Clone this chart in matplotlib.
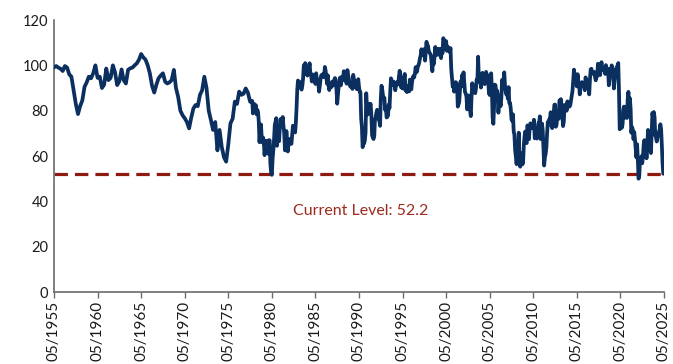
import matplotlib
matplotlib.use("Agg")
import matplotlib.pyplot as plt
import pandas as pd

# Consumer sentiment index: quarterly readings (Feb/May/Aug/Nov) 1955-1977
quarterly_1955_1977 = [
    99.1, 99.7, 99.0,                      # 1955 (May, Aug, Nov)
    98.5, 97.5, 99.7, 99.0,                # 1956
    96.0, 95.0, 89.0, 83.0,                # 1957
    78.5, 82.0, 84.5, 90.5,                # 1958
    92.5, 95.0, 94.3, 96.5,                # 1959
    100.0, 94.5, 95.0, 90.0,               # 1960
    91.5, 98.6, 93.5, 94.5,                # 1961
    100.0, 97.0, 91.3, 93.0,               # 1962
    98.2, 93.5, 92.0, 98.0,                # 1963
    98.7, 99.0, 100.0, 100.9,              # 1964
    102.5, 105.0, 103.5, 102.5,            # 1965
    100.0, 96.5, 91.0, 88.0,               # 1966
    91.5, 94.3, 95.5, 96.5,                # 1967
    92.8, 92.0, 92.5, 93.5,                # 1968
    98.0, 90.0, 86.0, 80.0,                # 1969
    78.0, 76.7, 75.0, 72.2,                # 1970
    77.0, 81.0, 82.5, 82.0,                # 1971
    87.0, 89.0, 95.0, 90.0,                # 1972
    80.0, 76.0, 71.5, 75.0,                # 1973
    62.5, 71.5, 64.0, 59.5,                # 1974
    57.5, 65.0, 74.4, 76.5,                # 1975
    84.0, 83.0, 88.4, 87.0,                # 1976
    87.5, 89.8, 88.0, 84.0,                # 1977
]

# Monthly readings from January 1978
monthly_1978_1987 = [
    83.7, 84.3, 78.8, 81.6, 82.9, 80.0, 82.4, 78.4, 80.4, 79.3, 75.0, 66.1,
    72.1, 73.9, 68.4, 66.0, 68.1, 65.8, 60.4, 64.5, 66.7, 62.1, 63.3, 61.0,
    67.0, 66.9, 56.5, 52.7, 51.7, 58.7, 62.3, 67.3, 73.7, 75.0, 76.7, 64.5,
    71.4, 66.9, 66.5, 72.4, 76.3, 73.1, 74.1, 77.2, 73.1, 70.3, 62.5, 64.3,
    71.0, 66.5, 62.0, 65.5, 67.5, 65.7, 65.4, 65.4, 69.3, 73.4, 72.1, 71.9,
    70.4, 74.6, 80.8, 89.1, 93.3, 92.2, 92.8, 90.9, 89.9, 89.3, 91.1, 94.2,
    100.1, 97.4, 101.0, 96.1, 98.1, 95.5, 96.6, 99.1, 100.9, 96.3, 95.7, 92.9,
    96.0, 93.7, 93.7, 94.6, 91.8, 96.5, 94.0, 92.4, 92.1, 88.4, 90.9, 93.9,
    95.6, 95.9, 95.1, 96.2, 94.8, 99.3, 97.7, 94.9, 91.9, 95.6, 91.4, 89.1,
    90.9, 90.5, 90.4, 92.8, 91.1, 91.5, 93.7, 94.4, 93.6, 89.3, 83.1, 86.8,
]
monthly_1988_1997 = [
    90.8, 91.6, 94.6, 91.2, 94.8, 94.7, 93.4, 97.4, 97.3, 94.1, 93.0, 91.9,
    97.9, 95.4, 94.3, 91.5, 90.7, 90.6, 92.0, 89.6, 95.8, 93.9, 90.9, 90.5,
    93.0, 89.5, 91.3, 93.9, 90.6, 88.3, 88.2, 76.4, 72.8, 63.9, 66.0, 65.5,
    66.8, 70.4, 87.7, 81.8, 78.3, 82.1, 82.9, 82.0, 83.0, 78.3, 69.1, 68.2,
    67.5, 68.8, 76.0, 77.2, 79.2, 80.4, 76.6, 76.1, 75.6, 73.3, 85.3, 91.0,
    89.3, 86.6, 85.9, 85.6, 80.3, 81.5, 77.0, 77.3, 77.9, 82.7, 81.2, 88.2,
    94.3, 93.2, 91.5, 92.6, 92.8, 91.2, 89.0, 91.7, 91.5, 92.7, 91.6, 95.1,
    97.6, 95.1, 90.3, 92.5, 89.8, 92.7, 94.4, 96.2, 88.9, 90.2, 88.2, 91.0,
    89.3, 88.5, 93.7, 92.7, 89.4, 92.4, 94.7, 95.3, 94.7, 96.5, 99.2, 96.9,
    97.4, 99.7, 100.0, 101.4, 103.2, 104.5, 107.1, 104.4, 106.0, 105.6, 107.2, 102.1,
]
monthly_1998_2007 = [
    106.6, 110.4, 106.5, 108.7, 106.5, 105.6, 105.2, 104.4, 100.9, 97.4, 102.7, 100.5,
    103.9, 108.1, 105.7, 104.6, 106.8, 107.3, 106.0, 104.5, 107.2, 103.2, 107.2, 105.4,
    112.0, 111.3, 107.1, 109.2, 110.7, 106.4, 108.3, 107.3, 106.8, 105.8, 107.6, 98.4,
    94.7, 90.6, 91.5, 88.4, 92.0, 92.6, 92.4, 91.5, 81.8, 82.7, 83.9, 88.8,
    93.0, 90.7, 95.7, 93.0, 96.9, 92.4, 88.1, 87.6, 86.1, 80.6, 84.2, 86.7,
    82.4, 79.9, 77.6, 86.0, 92.1, 89.7, 90.9, 89.3, 87.7, 89.6, 93.7, 92.6,
    103.8, 94.4, 95.8, 94.2, 90.2, 95.6, 96.7, 95.9, 94.2, 91.7, 92.8, 97.1,
    95.5, 94.1, 92.6, 87.7, 86.9, 96.0, 96.5, 89.1, 76.9, 74.2, 81.6, 91.5,
    91.2, 86.7, 88.9, 87.4, 79.1, 84.9, 84.7, 82.0, 85.4, 93.6, 92.1, 91.7,
    96.9, 91.3, 88.4, 87.1, 88.3, 85.3, 90.4, 83.4, 83.4, 80.9, 76.1, 75.5,
]
monthly_2008_2017 = [
    78.4, 70.8, 69.5, 62.6, 59.8, 56.4, 61.2, 63.0, 70.3, 57.6, 55.3, 60.1,
    61.2, 56.3, 57.3, 65.1, 68.7, 70.8, 66.0, 65.7, 73.5, 70.6, 67.4, 72.5,
    74.4, 73.6, 73.6, 72.2, 73.6, 76.0, 67.8, 68.9, 68.2, 67.7, 71.6, 74.5,
    74.2, 77.5, 67.5, 69.8, 74.3, 71.5, 63.7, 55.8, 59.5, 60.8, 63.7, 69.9,
    75.0, 75.3, 76.2, 76.4, 79.3, 73.2, 72.3, 74.3, 78.3, 82.6, 82.7, 72.9,
    73.8, 77.6, 78.6, 76.4, 84.5, 84.1, 85.1, 82.1, 77.5, 73.2, 75.1, 82.5,
    81.2, 81.6, 80.0, 84.1, 81.9, 82.5, 81.8, 82.5, 84.6, 86.9, 88.8, 93.6,
    98.1, 95.4, 93.0, 95.9, 90.7, 96.1, 93.1, 91.9, 87.2, 90.0, 91.3, 92.6,
    92.0, 91.7, 91.0, 89.0, 94.7, 93.5, 90.0, 89.8, 91.2, 87.2, 93.8, 98.2,
    98.5, 96.3, 96.9, 97.0, 97.1, 95.0, 93.4, 96.8, 95.1, 100.7, 98.5, 95.9,
]
monthly_2018_2025 = [
    95.7, 99.7, 101.4, 98.8, 98.0, 98.2, 97.9, 96.2, 100.1, 98.6, 97.5, 98.3,
    91.2, 93.8, 98.4, 97.2, 100.0, 98.2, 98.4, 89.8, 93.2, 95.5, 96.8, 99.3,
    99.8, 101.0, 89.1, 71.8, 72.3, 78.1, 72.5, 74.1, 80.4, 81.8, 76.9, 80.7,
    79.0, 76.8, 84.9, 88.3, 82.9, 85.5, 81.2, 70.3, 72.8, 71.7, 67.4, 70.6,
    67.2, 62.8, 59.4, 65.2, 58.4, 50.0, 51.5, 58.2, 58.6, 59.9, 56.8, 59.7,
    64.9, 67.0, 62.0, 63.7, 59.0, 64.2, 71.5, 69.4, 67.9, 63.8, 61.3, 69.7,
    79.0, 76.9, 79.4, 77.2, 69.1, 68.2, 66.4, 67.9, 70.1, 70.5, 71.8, 74.0,
    71.7, 64.7, 57.0, 52.2, 52.2,
]

current_level = 52.2
tick_years = list(range(1955, 2026, 5))

monthly = (monthly_1978_1987 + monthly_1988_1997 + monthly_1998_2007
           + monthly_2008_2017 + monthly_2018_2025)
q_dates = pd.date_range("1955-05-01", periods=len(quarterly_1955_1977), freq="3MS")
m_dates = pd.date_range("1978-01-01", periods=len(monthly), freq="MS")
dates = list(q_dates) + list(m_dates)
values = quarterly_1955_1977 + monthly

plt.rcParams["font.family"] = ["Lato", "DejaVu Sans"]

fig = plt.figure(figsize=(6.73, 3.64), dpi=100)
ax = fig.add_axes([0.0802, 0.1978, 0.9064, 0.7472])

navy = "#0B2F5F"
dark_red = "#8E1B10"

ax.plot(dates, values, color=navy, lw=2.7, solid_joinstyle="round", zorder=3)
ax.axhline(current_level, color=dark_red, lw=2.3, linestyle=(0, (4.2, 2.2)), zorder=2)
ax.text(0.503, 35.7 / 120, f"Current Level: {current_level}", transform=ax.transAxes,
        ha="center", va="center", color="#9C2A1E", fontsize=11.5)

ticks = [pd.Timestamp(f"{y}-05-01") for y in tick_years]
ax.set_xticks(ticks)
ax.set_xticklabels([f"05/{y}" for y in tick_years], rotation=90)
ax.set_xlim(ticks[0], ticks[-1])
ax.set_ylim(0, 120)
ax.set_yticks(range(0, 121, 20))

for side in ("top", "right"):
    ax.spines[side].set_visible(False)
for side in ("left", "bottom"):
    ax.spines[side].set_color("#6b6b6b")
    ax.spines[side].set_linewidth(1.2)

ax.tick_params(axis="x", direction="out", length=4.5, width=1.0, color="#6b6b6b",
               labelsize=11, pad=2, labelcolor="#1a1a1a")
ax.tick_params(axis="y", length=0, labelsize=10.5, pad=4, labelcolor="#1a1a1a")

fig.savefig("out.png", dpi=100)
